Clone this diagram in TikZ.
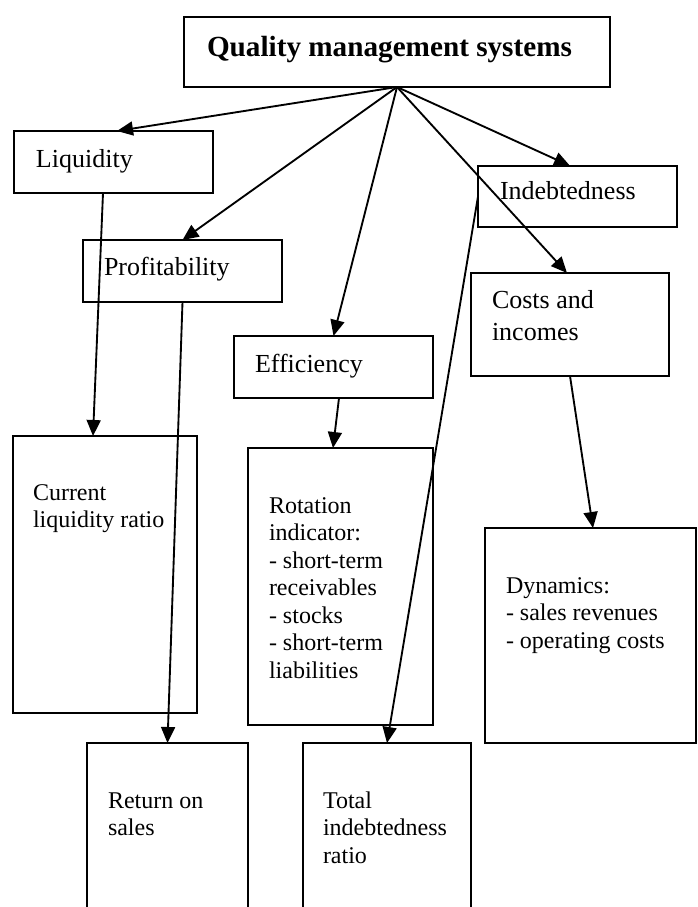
\documentclass[tikz,border=0pt]{standalone}
\usepackage{fontspec}
\setmainfont{Liberation Serif}
\usetikzlibrary{arrows.meta}

\begin{document}
\begin{tikzpicture}[x=0.75pt,y=-0.75pt]
	\tikzstyle{every node}=[outer sep=0pt]
	\tikzstyle{box}=[draw, line width=1.1pt, inner sep=0pt]
	\tikzstyle{txt}=[anchor=base west, inner sep=0pt, align=left, font=\fontsize{19.5}{24}\selectfont]
	\tikzstyle{small}=[txt, font=\fontsize{18}{20.6}\selectfont]
	\tikzstyle{conn}=[line width=1.4pt, -{Triangle[length=12pt,width=10.5pt]}]
	
	%% page and margins
	\useasboundingbox (0,0) rectangle (697,907);
	\clip (0,0) rectangle (697,907);
	
	%% boxes
	\node [box, minimum width=319.5pt, minimum height=52.5pt]  (qms)    at (397.0000,52.0000)  {};
	\node [box, minimum width=149.25pt, minimum height=46.5pt] (liq)    at (113.5000,162.0000) {};
	\node [box, minimum width=149.25pt, minimum height=46.5pt] (prof)   at (182.5000,271.0000) {};
	\node [box, minimum width=149.25pt, minimum height=46.5pt] (eff)    at (333.5000,367.0000) {};
	\node [box, minimum width=149.25pt, minimum height=46pt]   (indebt) at (577.5000,196.5000) {};
	\node [box, minimum width=148.5pt, minimum height=77.25pt] (costs)  at (570.0000,324.5000) {};
	\node [box, minimum width=138pt, minimum height=207.75pt]  (cur)    at (105.0000,574.5000) {};
	\node [box, minimum width=138.75pt, minimum height=207.75pt] (rot)  at (340.5000,586.5000) {};
	\node [box, minimum width=158.25pt, minimum height=161.25pt] (dyn)  at (590.5000,635.5000) {};
	\node [box, minimum width=120.75pt, minimum height=207.75pt] (ret)  at (167.5000,881.5000) {};
	\node [box, minimum width=126pt, minimum height=207.75pt]  (tot)    at (387.0000,881.5000) {};
	
	%% texts (shift = inset, baseline of last line)
	\node [txt, font=\bfseries\fontsize{21.9}{24}\selectfont] (qmstext) at ([shift={(23,39)}]qms.north west) {Quality management systems};
	\node [txt]   (liqtext)    at ([shift={(22,36)}]liq.north west)    {Liquidity};
	\node [txt]   (proftext)   at ([shift={(21,35)}]prof.north west)   {Profitability};
	\node [txt]   (efftext)    at ([shift={(21,36)}]eff.north west)    {Efficiency};
	\node [txt]   (indebttext) at ([shift={(22,34)}]indebt.north west) {Indebtedness};
	\node [txt]   (coststext)  at ([shift={(21,67)}]costs.north west)  {Costs and\\incomes};
	\node [small] (curtext)    at ([shift={(20,91.5)}]cur.north west)  {Current\\liquidity ratio};
	\node [small] (rottext)    at ([shift={(21,230)}]rot.north west)   {Rotation\\indicator:\\- short-term\\receivables\\- stocks\\- short-term\\liabilities};
	\node [small] (dyntext)    at ([shift={(21,120)}]dyn.north west)   {Dynamics:\\- sales revenues\\- operating costs};
	\node [small] (rettext)    at ([shift={(21,92.5)}]ret.north west)  {Return on\\sales};
	\node [small] (tottext)    at ([shift={(20,120)}]tot.north west)   {Total\\indebtedness\\ratio};
	
	%% connectors
	\draw [conn] (qms.south) -- ([shift={(3.5,0)}]liq.north);
	\draw [conn] (qms.south) -- (prof.north);
	\draw [conn] (qms.south) -- (eff.north);
	\draw [conn] (qms.south) -- ([shift={(-7.5,0)}]indebt.north);
	\draw [conn] (qms.south) -- ([shift={(-3,0)}]costs.north);
	\draw [conn] ([shift={(-10.5,0)}]liq.south) -- ([shift={(-12,0)}]cur.north);
	\draw [conn] (prof.south) -- (ret.north);
	\draw [conn] ([shift={(5.5,0)}]eff.south) -- ([shift={(-7.5,0)}]rot.north);
	\draw [conn] (indebt.west) -- (tot.north);
	\draw [conn] (costs.south) -- ([shift={(2.5,0)}]dyn.north);

\end{tikzpicture}
\end{document}
